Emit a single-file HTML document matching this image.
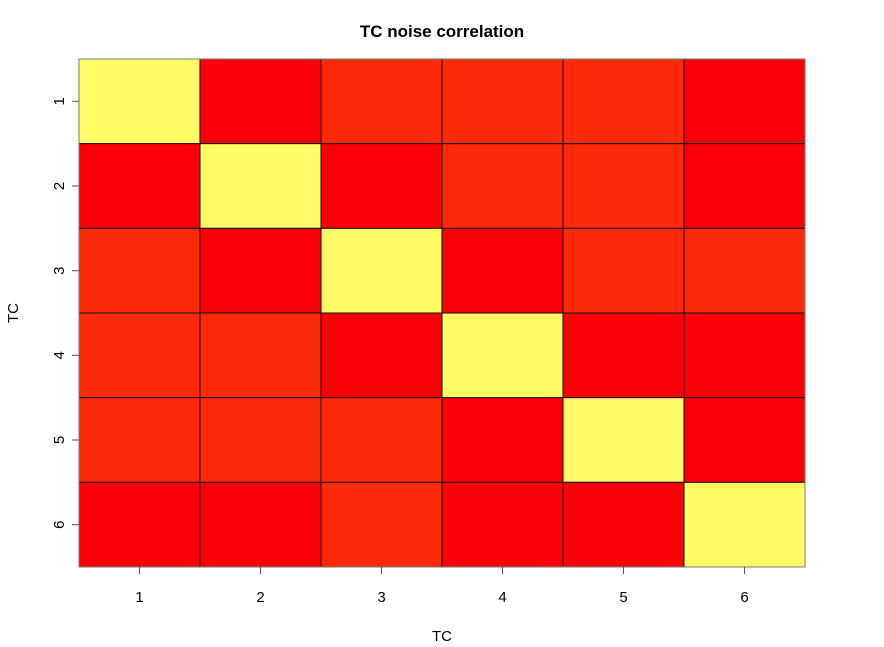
<!DOCTYPE html>
<html><head><meta charset="utf-8"><style>
body{margin:0;background:#fff;}
svg{display:block;font-family:"Liberation Sans",Arial,sans-serif;}
</style></head><body>
<svg id="chart" width="884" height="647">
<text x="442" y="37" text-anchor="middle" font-size="17" font-weight="bold">TC noise correlation</text>
<text x="442" y="641" text-anchor="middle" font-size="15">TC</text>
<text transform="translate(18,313) rotate(-90)" text-anchor="middle" font-size="15">TC</text>
<g id="cells"></g>
<g id="axes"></g>
</svg>
<script>
const categories = ["1","2","3","4","5","6"];
const matrix = [
 [1.0,0.1,0.2,0.2,0.2,0.1],
 [0.1,1.0,0.1,0.2,0.2,0.1],
 [0.2,0.1,1.0,0.1,0.2,0.2],
 [0.2,0.2,0.1,1.0,0.1,0.1],
 [0.2,0.2,0.2,0.1,1.0,0.1],
 [0.1,0.1,0.2,0.1,0.1,1.0]
];
const NS="http://www.w3.org/2000/svg";
const L=79,R=805,T=59,B=567;
const n=categories.length;
const cw=(R-L)/n, ch=(B-T)/n;
function xPos(i){return L+i*cw;}
function yPos(j){return T+j*ch;}
function color(v){ if(v>0.5) return "#FFFC66"; if(v>0.15) return "#FC2A08"; return "#FB0007"; }
const cells=document.getElementById('cells');
matrix.forEach((row,j)=>row.forEach((v,i)=>{
 const r=document.createElementNS(NS,'rect');
 r.setAttribute('x',xPos(i));r.setAttribute('y',yPos(j));
 r.setAttribute('width',cw);r.setAttribute('height',ch);
 r.setAttribute('fill',color(v));r.setAttribute('stroke','#111');r.setAttribute('stroke-width','1');
 
 
 cells.appendChild(r);
}));
const axes=document.getElementById('axes');
const box=document.createElementNS(NS,'rect');
box.setAttribute('x',L);box.setAttribute('y',T);box.setAttribute('width',R-L);box.setAttribute('height',B-T);
box.setAttribute('fill','none');box.setAttribute('stroke','#777');


axes.appendChild(box);
categories.forEach((c,i)=>{
 const x=xPos(i)+cw/2;
 const t=document.createElementNS(NS,'line');
 t.setAttribute('x1',x);t.setAttribute('x2',x);t.setAttribute('y1',B);t.setAttribute('y2',B+7);t.setAttribute('stroke','#555');
 
 
 axes.appendChild(t);
 const lb=document.createElementNS(NS,'text');
 lb.setAttribute('x',x);lb.setAttribute('y',602);lb.setAttribute('text-anchor','middle');lb.setAttribute('font-size','15');
 lb.textContent=c;
 
 
 axes.appendChild(lb);
 const y=yPos(i)+ch/2;
 const t2=document.createElementNS(NS,'line');
 t2.setAttribute('x1',L-7);t2.setAttribute('x2',L);t2.setAttribute('y1',y);t2.setAttribute('y2',y);t2.setAttribute('stroke','#555');
 
 
 axes.appendChild(t2);
 const lb2=document.createElementNS(NS,'text');
 lb2.setAttribute('transform','translate(64,'+y+') rotate(-90)');lb2.setAttribute('text-anchor','middle');lb2.setAttribute('font-size','15');
 lb2.textContent=c;
 
 
 axes.appendChild(lb2);
});
</script>
</body></html>
